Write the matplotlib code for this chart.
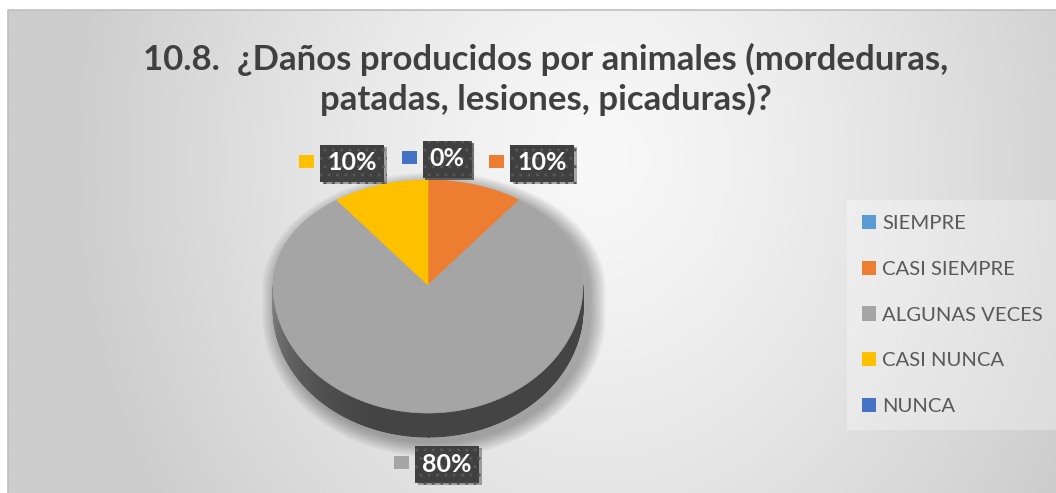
import numpy as np
import matplotlib.pyplot as plt
from matplotlib.patches import Polygon, Patch
import matplotlib.patheffects as pe

# Datos
categorias = ['SIEMPRE', 'CASI SIEMPRE', 'ALGUNAS VECES', 'CASI NUNCA', 'NUNCA']
valores = [0, 10, 80, 10, 0]
colores = ['#5b9bd5', '#ed7d31', '#a5a5a5', '#ffc000', '#4472c4']
titulo = '10.8.  ¿Daños producidos por animales (mordeduras,\npatadas, lesiones, picaduras)?'

# posiciones de las etiquetas (centro de la caja), en pixeles
pos_etiquetas = [(447, 159), (542, 163), (447, 464), (352, 163), (447, 159)]

plt.rcParams['font.family'] = ['Lato', 'DejaVu Sans']

W, H = 1056, 493
fig = plt.figure(figsize=(W / 100, H / 100), dpi=100)
ax = fig.add_axes([0, 0, 1, 1])
ax.set_xlim(0, W)
ax.set_ylim(H, 0)
ax.axis('off')

# Fondo con degradado radial
x0, y0, x1, y1 = 8, 10, W + 5, H + 5
gx, gy = np.meshgrid(np.linspace(x0, x1, 400), np.linspace(y0, y1, 200))
d = np.sqrt(((gx - 600) / 520) ** 2 + ((gy - 160) / 620) ** 2)
g = np.clip(248 - 42 * d ** 1.3, 205, 250) / 255
ax.imshow(np.dstack([g, g, g]), extent=(x0, x1, y1, y0), origin='upper',
          aspect='auto', zorder=0)
ax.plot([x0, x0, x1], [y1, y0, y0], color='#bfbfbf', lw=1.2, zorder=1)

# Pastel 3D (con algo de perspectiva: la mitad de atras mas corta)
cx, cy, rx, ry_atras, ry_frente, prof = 428, 285, 155, 105, 128, 24


def punto(t, dy=0.0):
    t = np.radians(t)
    c = np.cos(t)
    ry = ry_atras if c > 0 else ry_frente
    return cx + rx * np.sin(t), cy - ry * c + dy


def oscurecer(c, f):
    c = np.array(plt.matplotlib.colors.to_rgb(c))
    return tuple(c * f)


total = sum(valores)
angulos = np.concatenate([[0], np.cumsum(valores) / total * 360])

# sombra del pastel
ts = np.linspace(0, 360, 361)
sil = []
for t in ts:
    px, py = punto(t)
    if np.cos(np.radians(t)) < 0:
        py += prof
    sil.append((px, py))
sil = np.array(sil)
for k in range(12, 0, -1):
    esc = 1 + k * 0.009
    pts = (sil - [cx, cy + prof / 2]) * esc + [cx + 6, cy + prof / 2 + 5]
    ax.add_patch(Polygon(pts, closed=True, fc='black', ec='none', alpha=0.028, zorder=2))

# lados
for i, v in enumerate(valores):
    a, b = max(angulos[i], 90), min(angulos[i + 1], 270)
    if v == 0 or a >= b:
        continue
    pasos = np.linspace(a, b, int(b - a) + 2)
    # base oscura para tapar las juntas entre tiras
    base = [punto(t) for t in pasos] + [punto(t, prof) for t in pasos[::-1]]
    ax.add_patch(Polygon(base, closed=True, fc=oscurecer(colores[i], 0.41),
                         ec='none', zorder=3))
    for t1, t2 in zip(pasos[:-1], pasos[1:]):
        tm = (t1 + t2) / 2
        f = 0.41 + 0.38 * np.clip((tm - 195) / 75, 0, 1) ** 1.6
        p1, p2 = punto(t1), punto(t2)
        q1, q2 = punto(t1, prof), punto(t2, prof)
        ax.add_patch(Polygon([p1, p2, q2, q1], closed=True, fc=oscurecer(colores[i], f),
                             ec=oscurecer(colores[i], f), lw=0.6, zorder=3))

# caras superiores
for i, v in enumerate(valores):
    if v == 0:
        continue
    arco = np.linspace(angulos[i], angulos[i + 1], max(int(angulos[i + 1] - angulos[i]), 2) + 1)
    pts = [(cx, cy)] + [punto(t) for t in arco]
    ax.add_patch(Polygon(pts, closed=True, fc=colores[i], ec=colores[i], lw=0.5, zorder=4))

# etiquetas de datos
textos = []
for i, v in enumerate(valores):
    x, y = pos_etiquetas[i]
    txt = f'{round(v / total * 100)}%'
    t = ax.text(x, y, txt, ha='center', va='center', fontsize=18, fontweight='bold',
                color='white', zorder=6,
                bbox=dict(boxstyle='square,pad=0.28', fc='#404040', ec='#575757',
                          hatch='..', lw=0))
    t.get_bbox_patch().set_path_effects([pe.SimplePatchShadow(offset=(2, -2), alpha=0.35),
                                         pe.Normal()])
    textos.append(t)

fig.canvas.draw()
inv = ax.transData.inverted()
for i, t in enumerate(textos):
    bb = t.get_bbox_patch().get_window_extent()
    izq = inv.transform((bb.x0, bb.y0))[0]
    y = pos_etiquetas[i][1]
    ax.add_patch(plt.Rectangle((izq - 21, y - 8), 15, 13, fc=colores[i], ec='none', zorder=6))

# titulo
ax.text(546, 79, titulo, ha='center', va='center', fontsize=25, fontweight='bold',
        color='#404040', linespacing=1.25, zorder=6)

# leyenda
manejadores = [Patch(fc=c, ec='none') for c in colores]
leg = ax.legend(manejadores, categorias, loc='upper left',
                bbox_to_anchor=(847 / W, 1 - 200 / H), frameon=True, fontsize=14.6,
                labelspacing=1.4, handlelength=0.7, handleheight=0.7,
                handletextpad=0.3, borderpad=0.75, borderaxespad=0, fancybox=False)
leg.get_frame().set_facecolor('white')
leg.get_frame().set_alpha(0.3)
leg.get_frame().set_edgecolor('none')
for tx in leg.get_texts():
    tx.set_color('#595959')

fig.savefig('out.png', dpi=100, facecolor='white')
